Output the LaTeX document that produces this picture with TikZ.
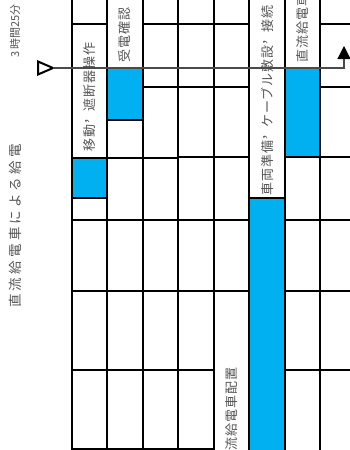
\documentclass[tikz,border=0pt]{standalone}
\usepackage{fontspec}
\newfontfamily\jpfont{Noto Sans CJK JP}
\newfontfamily\jpwide[LetterSpace=24]{Noto Sans CJK JP}
\newfontfamily\jptask[LetterSpace=8]{Noto Sans CJK JP}
\newcommand{\upcomma}{\raisebox{.45em}[0pt][0pt]{，}}
\usetikzlibrary{arrows.meta}
\definecolor{feedBlue}{HTML}{00B0F0}
\definecolor{labelGray}{HTML}{555555}
\definecolor{lineGray}{HTML}{4A4A4A}

\begin{document}
\begin{tikzpicture}[x=1pt, y=-1pt, >=Stealth,
          rule/.style={line width=1.8pt},
          side/.style={rotate=90, anchor=west, inner sep=0pt, text=labelGray},
          task/.style={side, font=\jptask\fontsize{13}{13}\selectfont}]
        \useasboundingbox (0,0) rectangle (350,450);
        \clip (0,0) rectangle (350,450);
        \foreach \xa/\ya/\xb/\yb in {72/158/107/198, 107/68/143/120, 249/198/285/452, 285/68/320/157}
          { \fill[feedBlue] (\xa,\ya) rectangle (\xb,\yb); }
        \foreach \xa/\xb/\ys in {72/107/{24,158,198,220,291,370,449}, 107/143/{68,120,158,220,291,370,449},
            143/178/{24,87,158,220,291,370,449}, 178/214/{24,87,157,220,291,370,449}, 214/249/{24,87,157,220,291},
            249/285/{198}, 285/320/{68,157,220,291,370}, 320/352/{24,87,157,220,291,370}}
          { \foreach \y in \ys { \draw[rule] (\xa,\y) -- (\xb,\y); } }
        \foreach \x in {107,143,178,214,249,285,320} { \draw[rule] (\x,-2) -- (\x,452); }
        \draw[rule, line width=2.8pt] (72,-2) -- (72,452);
        \node[side, font=\jpwide\fontsize{13.5}{13.5}\selectfont] (title) at (15,308) {直流給電車による給電};
        \node[side, font=\jpfont\fontsize{11}{11}\selectfont] (span) at (15,58) {3 時間25分};
        \node[task] (move) at (89.5,152) {移動\upcomma 遮断器操作};
        \node[task] (check) at (125,63) {受電確認};
        \node[task] (place) at (231.5,465) {直流給電車配置};
        \node[task] (prep) at (267,196) {車両準備\upcomma ケーブル敷設\upcomma 接続};
        \node[task] (feed) at (302.5,63) {直流給電車};
        \coordinate (tip) at (53,68);
        \coordinate (turn) at (344,68);
        \coordinate (top) at (344,46);
        \draw[line width=2pt] (tip) -- ++(-15,-6.5) -- ++(0,13) -- cycle;
        \draw[lineGray, line width=1.2pt, -{Triangle[length=13pt, width=13pt, color=black]}] (tip) -- (turn) -- (top);
      \end{tikzpicture}
\end{document}
